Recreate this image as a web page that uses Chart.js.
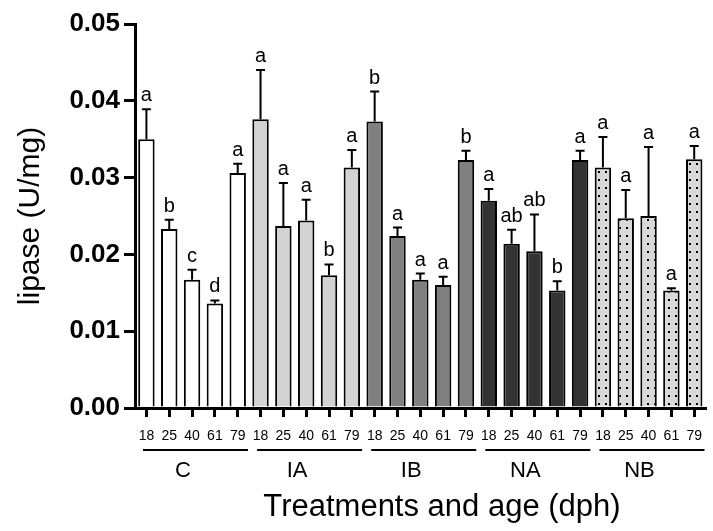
<!DOCTYPE html>
<html>
<head>
<meta charset="utf-8">
<script src="https://cdn.jsdelivr.net/npm/chart.js@4.4.1/dist/chart.umd.min.js"></script>
<style>
  html, body { margin: 0; padding: 0; background: #fff; }
  #wrap { width: 713px; height: 531px; }
</style>
</head>
<body>
<div id="wrap"><canvas id="c" width="713" height="531"></canvas></div>
<script>
// ---- data ----
const ages = ['18', '25', '40', '61', '79'];
const groups = ['C', 'IA', 'IB', 'NA', 'NB'];

const meanC  = [0.0350, 0.0233, 0.0167, 0.0136, 0.0306];
const meanIA = [0.0376, 0.0237, 0.0244, 0.0173, 0.0313];
const meanIB = [0.0373, 0.0224, 0.0167, 0.0160, 0.0323];
const meanNA = [0.0270, 0.0214, 0.0204, 0.0153, 0.0323];
const meanNB = [0.0313, 0.0247, 0.0250, 0.0153, 0.0324];

const semC  = [0.0039, 0.0012, 0.0013, 0.0004, 0.0012];
const semIA = [0.0064, 0.0056, 0.0027, 0.0014, 0.0023];
const semIB = [0.0039, 0.0011, 0.0008, 0.0011, 0.0012];
const semNA = [0.0015, 0.0018, 0.0048, 0.0012, 0.0012];
const semNB = [0.0040, 0.0037, 0.0090, 0.0003, 0.0017];

const lettersC  = ['a', 'b', 'c', 'd', 'a'];
const lettersIA = ['a', 'a', 'a', 'b', 'a'];
const lettersIB = ['b', 'a', 'a', 'a', 'b'];
const lettersNA = ['a', 'ab', 'ab', 'b', 'a'];
const lettersNB = ['a', 'a', 'a', 'a', 'a'];

const yTicks = [0.00, 0.01, 0.02, 0.03, 0.04, 0.05];
const xTitle = 'Treatments and age (dph)';
const yTitle = 'lipase (U/mg)';

// ---- build ----
const FONT = "'Liberation Sans', Arial, Helvetica, sans-serif";
const labels = [].concat(ages, ages, ages, ages, ages);
const means = [].concat(meanC, meanIA, meanIB, meanNA, meanNB);
const sems = [].concat(semC, semIA, semIB, semNA, semNB);
const letters = [].concat(lettersC, lettersIA, lettersIB, lettersNA, lettersNB);

function dotPattern() {
  const p = document.createElement('canvas');
  p.width = 7; p.height = 8;
  const g = p.getContext('2d');
  g.fillStyle = '#d9d9d9';
  g.fillRect(0, 0, 7, 8);
  g.fillStyle = '#000';
  g.fillRect(3, 3, 2, 2);
  return g.createPattern(p, 'repeat');
}
const groupFill = ['#ffffff', '#d3d3d3', '#808080', '#333333', dotPattern()];
const fills = labels.map((_, i) => groupFill[Math.floor(i / ages.length)]);

const extras = {
  id: 'extras',
  afterDatasetsDraw(chart) {
    const ctx = chart.ctx;
    const meta = chart.getDatasetMeta(0);
    const ys = chart.scales.y;
    const xs = chart.scales.x;
    const area = chart.chartArea;
    const n = ages.length;
    ctx.save();
    ctx.strokeStyle = '#000';
    ctx.fillStyle = '#000';
    ctx.lineWidth = 2;
    // error bars + letters
    meta.data.forEach((bar, i) => {
      const x = bar.x;
      const yTop = ys.getPixelForValue(means[i] + sems[i]);
      const yMean = ys.getPixelForValue(means[i]);
      ctx.beginPath();
      ctx.moveTo(x, yMean);
      ctx.lineTo(x, yTop);
      ctx.moveTo(x - 4.5, yTop);
      ctx.lineTo(x + 4.5, yTop);
      ctx.stroke();
      ctx.font = '20px ' + FONT;
      ctx.textAlign = 'center';
      ctx.textBaseline = 'alphabetic';
      ctx.fillText(letters[i], x, yTop - 8);
    });
    // group lines and labels
    ctx.lineWidth = 2;
    groups.forEach((g, gi) => {
      const s = gi * n - 0.15;
      const e = gi * n + (n - 1) + 0.45;
      const x1 = xs.getPixelForValue(s);
      const x2 = xs.getPixelForValue(e);
      ctx.beginPath();
      ctx.moveTo(x1, area.bottom + 42);
      ctx.lineTo(x2, area.bottom + 42);
      ctx.stroke();
      ctx.font = '22px ' + FONT;
      ctx.textAlign = 'center';
      ctx.textBaseline = 'alphabetic';
      ctx.fillText(g, xs.getPixelForValue((s + e) / 2 - 0.55), area.bottom + 69);
    });
    // x axis title
    ctx.font = '31px ' + FONT;
    ctx.textAlign = 'center';
    ctx.textBaseline = 'middle';
    ctx.fillText(xTitle, area.left + 0.538 * (area.right - area.left), area.bottom + 99);
    ctx.restore();
  }
};

new Chart(document.getElementById('c'), {
  type: 'bar',
  data: {
    labels: labels,
    datasets: [{
      data: means,
      backgroundColor: fills,
      borderColor: '#000',
      borderWidth: 2,
      borderSkipped: 'bottom',
      barPercentage: 0.72,
      categoryPercentage: 1.0
    }]
  },
  options: {
    responsive: false,
    animation: false,
    devicePixelRatio: 1,
    layout: { padding: { top: 24, right: 0, bottom: 0, left: 0 } },
    plugins: { legend: { display: false }, tooltip: { enabled: false } },
    scales: {
      x: {
        offset: true,
        grid: { display: true, drawOnChartArea: false, offset: false, tickLength: 9, lineWidth: 3, color: '#000' },
        border: { display: true, width: 3, color: '#000' },
        ticks: { color: '#000', font: { family: FONT, size: 14 }, padding: 11, maxRotation: 0, autoSkip: false },
        title: { display: false },
        afterFit(scale) { scale.height = 123; }
      },
      y: {
        min: 0, max: 0.05,
        afterBuildTicks(scale) { scale.ticks = yTicks.map(v => ({ value: v })); },
        grid: { display: true, drawOnChartArea: false, tickLength: 11, lineWidth: 3, color: '#000' },
        border: { display: true, width: 3, color: '#000' },
        ticks: { color: '#000', font: { family: FONT, size: 26, weight: 'bold' }, padding: 4, callback: v => Number(v).toFixed(2) },
        title: { display: true, text: yTitle, color: '#000', font: { family: FONT, size: 30 }, padding: { top: 13, bottom: 0 } },
        afterFit(scale) { scale.width = 135; }
      }
    }
  },
  plugins: [extras]
});
</script>
</body>
</html>
